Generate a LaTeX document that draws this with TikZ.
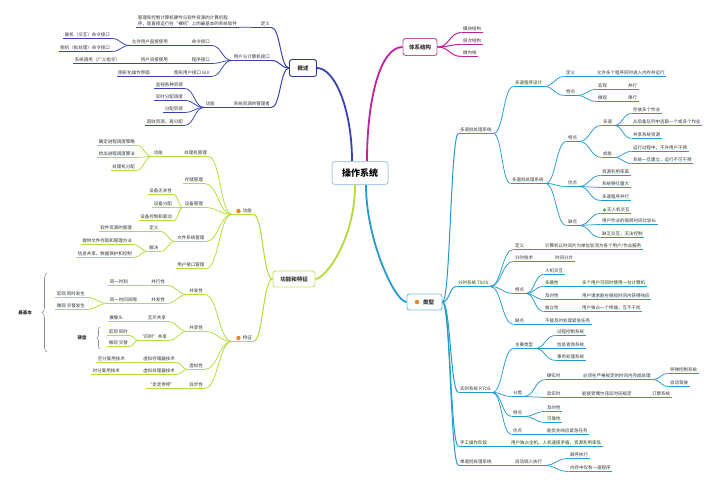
\documentclass[tikz,border=0pt]{standalone}
\usepackage{fontspec}
\setmainfont{Noto Sans CJK SC}
\usetikzlibrary{calc,decorations.pathreplacing}
\definecolor{txt}{HTML}{333333}
\definecolor{cBlue}{RGB}{55,68,175}
\definecolor{cMag}{RGB}{190,35,155}
\definecolor{cYG}{RGB}{178,220,55}
\definecolor{cCy}{RGB}{35,155,205}
\definecolor{rootb}{RGB}{175,205,228}
\definecolor{dotor}{RGB}{240,130,40}
\definecolor{dotgr}{RGB}{70,190,90}
\definecolor{gsbc}{RGB}{45,55,135}
\definecolor{txbc}{RGB}{185,85,170}
\definecolor{gtbc}{RGB}{200,228,100}
\definecolor{lxbc}{RGB}{120,190,225}
\definecolor{brc}{RGB}{140,140,140}
\tikzset{
  t/.style={font=\fontsize{4.5}{5}\selectfont, text=txt, inner xsep=1.5pt, inner ysep=1pt, text height=3.6pt, text depth=0.9pt},
  bl/.style={draw=cBlue, line width=0.75pt},
  mg/.style={draw=cMag, line width=0.75pt},
  yg/.style={draw=cYG, line width=0.75pt},
  cy/.style={draw=cCy, line width=0.75pt},
  lc/.style={to path={let \p1=(\tikztostart), \p2=(\tikztotarget), \p3=($(\p1)!0.5!(\p2)$) in .. controls (\x3,\y1) and (\x3,\y2) .. (\p2)}},
  box/.style={draw=#1, line width=0.9pt, rounded corners=2.5pt, fill=white, text=txt, font=\fontsize{5.5}{6}\selectfont\bfseries, inner sep=0pt},
  dotn/.style={circle, fill=#1, inner sep=0pt, minimum size=4.4pt},
  bracestyle/.style={draw=brc, line width=0.6pt, decorate, decoration={brace, amplitude=#1}},
  bold/.style={t, font=\fontsize{4.5}{5}\selectfont\bfseries}
}
\newcommand\mmL[4]{\node[t,anchor=east] (#2) at (#3) {#4}; \draw[#1] (#2.south west) -- (#2.south east);}
\newcommand\mmR[4]{\node[t,anchor=west] (#2) at (#3) {#4}; \draw[#1] (#2.south west) -- (#2.south east);}
\newcommand\conL[3]{\draw[#1] (#2.south west) to[lc] (#3.south east);}
\newcommand\conR[3]{\draw[#1] (#2.south east) to[lc] (#3.south west);}
\begin{document}
\begin{tikzpicture}[x=1pt,y=-1pt]
\fill[white] (0,0) rectangle (720,488);
\useasboundingbox (0,0) rectangle (720,488);

% ---------- boxes ----------
\node[draw=rootb, line width=1pt, rounded corners=3pt, fill=white, minimum width=56pt, minimum height=23pt, inner sep=0pt, text=black, font=\fontsize{9}{10}\selectfont\bfseries] (root) at (360,173) {操作系统};
\node[box=gsbc, minimum width=27pt, minimum height=17pt] (gs) at (303,68) {概述};
\node[box=txbc, minimum width=34pt, minimum height=17pt] (tx) at (420,47) {体系结构};
\node[box=gtbc, minimum width=42pt, minimum height=16pt] (gt) at (294,279) {功能和特征};
\node[box=lxbc, minimum width=35pt, minimum height=16pt] (lx) at (424.5,302) {\hspace*{8pt}类型};
\node[dotn=dotor] (lxdot) at (417,302) {};

\draw[draw=cBlue, line width=1.8pt] ([xshift=-8pt]root.north) .. controls (352,110) and (335,68) .. (gs.east);
\draw[draw=cMag, line width=1.8pt] ([xshift=7pt]root.north) .. controls (367,100) and (380,47) .. (tx.west);
\draw[draw=cYG, line width=1.8pt] ([xshift=-5pt]root.south) .. controls (355,240) and (325,279) .. (gt.east);
\draw[draw=cCy, line width=1.8pt] ([xshift=6pt]root.south) .. controls (366,240) and (395,302) .. (lx.west);

% ---------- 概述 ----------
\mmL{bl}{gsdef}{271.5,24}{定义}
\node[font=\fontsize{4.5}{6.5}\selectfont, text=txt, align=left, anchor=south east, inner xsep=1.5pt, inner ysep=1pt] (gsdeft) at (238.5,27.25) {管理和控制计算机硬件与软件资源的计算机程\\序，是直接运行在“裸机”上的最基本的系统软件};
\draw[bl] (gsdeft.south west) -- (gsdeft.south east);
\mmL{bl}{gsui}{271.5,57}{用户与计算机接口}
\mmL{bl}{gscmd}{211.5,42}{命令接口}
\mmL{bl}{gscmdb}{169.5,42}{允许用户直接使用}
\mmL{bl}{gscmdx}{111.5,35}{联机（交互）命令接口}
\mmL{bl}{gscmdy}{111.5,48}{脱机（批处理）命令接口}
\mmL{bl}{gsprog}{211.5,60}{程序接口}
\mmL{bl}{gsprogb}{169.5,60}{用户间接使用}
\mmL{bl}{gsprogc}{121.5,60}{系统调用（广义指令）}
\mmL{bl}{gsgui}{211.5,73}{图形用户接口 GUI}
\mmL{bl}{gsguib}{151.5,73}{图形化操作界面}
\mmL{bl}{gsres}{271.5,104}{系统资源的管理者}
\mmL{bl}{gsfn}{216.5,104}{功能}
\mmL{bl}{gsfa}{184.5,85}{监视各种资源}
\mmL{bl}{gsfb}{184.5,97}{实时分配调度}
\mmL{bl}{gsfc}{184.5,109}{分配资源}
\mmL{bl}{gsfd}{184.5,122}{回收资源，再分配}
\foreach \q in {gsdef,gsui,gsres} {\draw[bl, line width=1pt] (gs.west) to[lc] (\q.south east);}
\conL{bl}{gsdef}{gsdeft}
\foreach \q in {gscmd,gsprog,gsgui} {\conL{bl}{gsui}{\q}}
\conL{bl}{gscmd}{gscmdb}
\conL{bl}{gscmdb}{gscmdx}
\conL{bl}{gscmdb}{gscmdy}
\conL{bl}{gsprog}{gsprogb}
\conL{bl}{gsprogb}{gsprogc}
\conL{bl}{gsgui}{gsguib}
\conL{bl}{gsres}{gsfn}
\foreach \q in {gsfa,gsfb,gsfc,gsfd} {\conL{bl}{gsfn}{\q}}

% ---------- 体系结构 ----------
\mmR{mg}{txi}{461.5,29}{模块结构}
\mmR{mg}{txii}{461.5,41}{层次结构}
\mmR{mg}{txiii}{461.5,53}{微内核}
\foreach \q in {txi,txii,txiii} {\draw[mg, line width=1pt] (tx.east) to[lc] (\q.south west);}

% ---------- 功能和特征 ----------
\mmL{yg}{gn}{253.5,211}{\hspace*{9pt}功能}
\node[dotn=dotor] (gndot) at (238.5,211) {};
\mmL{yg}{tz}{253.5,338}{\hspace*{9pt}特征}
\node[dotn=dotor] (tzdot) at (238.5,338) {};
\foreach \q in {gn,tz} {\draw[yg, line width=1pt] (gt.west) to[lc] (\q.south east);}

\mmL{yg}{gna}{208.5,153}{处理机管理}
\mmL{yg}{gnaf}{164.5,153}{功能}
\mmL{yg}{gnax}{136.5,142}{确定进程调度策略}
\mmL{yg}{gnay}{136.5,154}{给出进程调度算法}
\mmL{yg}{gnaz}{136.5,167}{处理机分配}
\mmL{yg}{gnb}{204.5,180}{存储管理}
\mmL{yg}{gnc}{204.5,204}{设备管理}
\mmL{yg}{gncx}{173.5,191}{设备无关性}
\mmL{yg}{gncy}{173.5,204}{设备分配}
\mmL{yg}{gncz}{173.5,217}{设备控制和驱动}
\mmL{yg}{gnd}{206,238}{文件系统管理}
\mmL{yg}{gnda}{160,228}{定义}
\mmL{yg}{gndat}{133.5,228}{软件资源的管理}
\mmL{yg}{gndb}{160,248}{解决}
\mmL{yg}{gndbx}{133.5,241}{提供文件存取和管理方法}
\mmL{yg}{gndby}{133.5,254}{信息共享、数据保护和控制}
\mmL{yg}{gne}{206,265}{用户接口管理}
\foreach \q in {gna,gnb,gnc,gnd,gne} {\conL{yg}{gn}{\q}}
\conL{yg}{gna}{gnaf}
\foreach \q in {gnax,gnay,gnaz} {\conL{yg}{gnaf}{\q}}
\foreach \q in {gncx,gncy,gncz} {\conL{yg}{gnc}{\q}}
\conL{yg}{gnd}{gnda}
\conL{yg}{gnd}{gndb}
\conL{yg}{gnda}{gndat}
\conL{yg}{gndb}{gndbx}
\conL{yg}{gndb}{gndby}

\mmL{yg}{tza}{204.5,291}{并发性}
\mmL{yg}{tzaa}{166.5,282}{并行性}
\mmL{yg}{tzaax}{129.5,282}{同一时刻}
\mmL{yg}{tzab}{166.5,300}{并发性}
\mmL{yg}{tzabx}{138.5,300}{同一时间间隔}
\mmL{yg}{tzabi}{86.5,294}{宏观\ 同时发生}
\mmL{yg}{tzabii}{86.5,306}{微观\ 交替发生}
\mmL{yg}{tzb}{204.5,328}{共享性}
\mmL{yg}{tzba}{167.5,318}{互斥共享}
\mmL{yg}{tzbax}{124.5,318}{摄像头}
\mmL{yg}{tzbb}{168.5,337}{“同时”共享}
\mmL{yg}{tzbbi}{129.5,332}{宏观\ 同时}
\mmL{yg}{tzbbii}{129.5,343}{微观\ 交替}
\mmL{yg}{tzc}{204.5,366}{虚拟性}
\mmL{yg}{tzca}{176.5,359}{虚拟存储器技术}
\mmL{yg}{tzcax}{126.5,359}{空分复用技术}
\mmL{yg}{tzcb}{176.5,371}{虚拟处理器技术}
\mmL{yg}{tzcbx}{121.5,371}{时分复用技术}
\mmL{yg}{tzd}{204.5,385}{异步性}
\mmL{yg}{tzdx}{176.5,385}{“走走停停”}
\foreach \q in {tza,tzb,tzc,tzd} {\conL{yg}{tz}{\q}}
\conL{yg}{tza}{tzaa}
\conL{yg}{tza}{tzab}
\conL{yg}{tzaa}{tzaax}
\conL{yg}{tzab}{tzabx}
\conL{yg}{tzabx}{tzabi}
\conL{yg}{tzabx}{tzabii}
\conL{yg}{tzb}{tzba}
\conL{yg}{tzb}{tzbb}
\conL{yg}{tzba}{tzbax}
\conL{yg}{tzbb}{tzbbi}
\conL{yg}{tzbb}{tzbbii}
\conL{yg}{tzc}{tzca}
\conL{yg}{tzc}{tzcb}
\conL{yg}{tzca}{tzcax}
\conL{yg}{tzcb}{tzcbx}
\conL{yg}{tzd}{tzdx}

\node[bold] (zjb) at (25,313) {最基本};
\draw[bracestyle=5pt] (47,352) -- (47,273);
\node[bold] (yp) at (82,338) {硬盘};
\draw[bracestyle=3pt] (100,349) -- (100,327);

% ---------- 类型 ----------
\mmR{cy}{la}{458.5,130}{多道批处理系统}
\mmR{cy}{laa}{513.5,83}{多道程序设计}
\mmR{cy}{laai}{564.5,73}{定义}
\mmR{cy}{laait}{595.5,73}{允许多个程序同时进入内存并运行}
\mmR{cy}{laaii}{564.5,92}{特点}
\mmR{cy}{laaiia}{596.5,86}{宏观}
\mmR{cy}{laaiiax}{626.5,86}{并行}
\mmR{cy}{laaiib}{596.5,98}{微观}
\mmR{cy}{laaiibx}{626.5,98}{串行}
\mmR{cy}{lab}{510.5,180}{多道批处理系统}
\mmR{cy}{labi}{566.5,138}{特点}
\mmR{cy}{labia}{601.5,122}{多道}
\mmR{cy}{labiax}{631.5,110}{存放多个作业}
\mmR{cy}{labiay}{631.5,122}{从后备队列中选取一个或多个作业}
\mmR{cy}{labiaz}{631.5,135}{共享系统资源}
\mmR{cy}{labib}{601.5,154}{成批}
\mmR{cy}{labibx}{631.5,148}{运行过程中，不许用户干预}
\mmR{cy}{labiby}{631.5,160}{系统一旦建立，运行不可干预}
\mmR{cy}{labii}{566.5,183}{优点}
\mmR{cy}{labiia}{600.5,172}{资源利用率高}
\mmR{cy}{labiib}{600.5,184}{系统吞吐量大}
\mmR{cy}{labiic}{600.5,197}{多道程序并行}
\mmR{cy}{labiii}{566.5,222}{缺点}
\mmR{cy}{labiiia}{600.5,210}{\hspace*{5pt}无人机交互}
\node[dotn=dotgr, minimum size=3.6pt] (grdot) at (604.5,210) {};
\mmR{cy}{labiiib}{600.5,221}{用户作业的周转时间比较长}
\mmR{cy}{labiiic}{600.5,234}{缺乏交互，无法控制}

\mmR{cy}{lb}{456.5,283}{分时系统 TSOS}
\mmR{cy}{lbi}{513.5,246}{定义}
\mmR{cy}{lbit}{543.5,246}{计算机以时间片为单位轮流为各个用户/作业服务}
\mmR{cy}{lbii}{513.5,258}{分时技术}
\mmR{cy}{lbiit}{553.5,258}{时间分片}
\mmR{cy}{lbiii}{513.5,290}{特点}
\mmR{cy}{lbiiia}{543.5,271}{人机交互}
\mmR{cy}{lbiiib}{543.5,283}{多路性}
\mmR{cy}{lbiiibt}{580.5,283}{多个用户可同时使用一台计算机}
\mmR{cy}{lbiiic}{543.5,296}{及时性}
\mmR{cy}{lbiiict}{580.5,296}{用户请求能在很短时间内获得响应}
\mmR{cy}{lbiiid}{543.5,308}{独立性}
\mmR{cy}{lbiiidt}{580.5,308}{用户独占一个终端，互不干扰}
\mmR{cy}{lbiv}{513.5,321}{缺点}
\mmR{cy}{lbivt}{543.5,321}{不能及时处理紧急任务}

\mmR{cy}{lr}{458.5,389}{实时系统 RTOS}
\mmR{cy}{lri}{513.5,345}{主要类型}
\mmR{cy}{lria}{555.5,332}{过程控制系统}
\mmR{cy}{lrib}{555.5,345}{信息查询系统}
\mmR{cy}{lric}{555.5,357}{事务处理系统}
\mmR{cy}{lrii}{511.5,393}{分类}
\mmR{cy}{lriia}{545.5,376}{硬实时}
\mmR{cy}{lriiat}{581.5,376}{必须在严格规定的时间内完成处理}
\mmR{cy}{lriiax}{668.5,370}{导弹控制系统}
\mmR{cy}{lriiay}{668.5,383}{自动驾驶}
\mmR{cy}{lriib}{545.5,394}{软实时}
\mmR{cy}{lriibt}{580.5,394}{能接受偶尔违反时间规定}
\mmR{cy}{lriibx}{650.5,394}{订票系统}
\mmR{cy}{lriii}{511.5,413}{特点}
\mmR{cy}{lriiia}{545.5,408}{及时性}
\mmR{cy}{lriiib}{545.5,419}{可靠性}
\mmR{cy}{lriv}{511.5,431}{优点}
\mmR{cy}{lrivt}{545.5,431}{能优先响应紧急任务}

\mmR{cy}{ld}{458.5,443}{手工操作阶段}
\mmR{cy}{ldt}{509.5,443}{用户独占全机、人机速度矛盾，资源利用率低}
\mmR{cy}{le}{458.5,462}{单道批处理系统}
\mmR{cy}{lei}{513.5,462}{自动调入执行}
\mmR{cy}{leia}{568.5,455}{顺序执行}
\mmR{cy}{leib}{568.5,468}{内存中仅有一道程序}

\foreach \q in {la,lb,lr,ld,le} {\draw[cy, line width=1pt] (lx.east) to[lc] (\q.south west);}
\conR{cy}{la}{laa}
\conR{cy}{la}{lab}
\conR{cy}{laa}{laai}
\conR{cy}{laa}{laaii}
\conR{cy}{laai}{laait}
\conR{cy}{laaii}{laaiia}
\conR{cy}{laaii}{laaiib}
\conR{cy}{laaiia}{laaiiax}
\conR{cy}{laaiib}{laaiibx}
\foreach \q in {labi,labii,labiii} {\conR{cy}{lab}{\q}}
\conR{cy}{labi}{labia}
\conR{cy}{labi}{labib}
\foreach \q in {labiax,labiay,labiaz} {\conR{cy}{labia}{\q}}
\conR{cy}{labib}{labibx}
\conR{cy}{labib}{labiby}
\foreach \q in {labiia,labiib,labiic} {\conR{cy}{labii}{\q}}
\foreach \q in {labiiia,labiiib,labiiic} {\conR{cy}{labiii}{\q}}
\foreach \q in {lbi,lbii,lbiii,lbiv} {\conR{cy}{lb}{\q}}
\conR{cy}{lbi}{lbit}
\conR{cy}{lbii}{lbiit}
\foreach \q in {lbiiia,lbiiib,lbiiic,lbiiid} {\conR{cy}{lbiii}{\q}}
\conR{cy}{lbiiib}{lbiiibt}
\conR{cy}{lbiiic}{lbiiict}
\conR{cy}{lbiiid}{lbiiidt}
\conR{cy}{lbiv}{lbivt}
\foreach \q in {lri,lrii,lriii,lriv} {\conR{cy}{lr}{\q}}
\foreach \q in {lria,lrib,lric} {\conR{cy}{lri}{\q}}
\conR{cy}{lrii}{lriia}
\conR{cy}{lrii}{lriib}
\conR{cy}{lriia}{lriiat}
\conR{cy}{lriiat}{lriiax}
\conR{cy}{lriiat}{lriiay}
\conR{cy}{lriib}{lriibt}
\conR{cy}{lriibt}{lriibx}
\conR{cy}{lriii}{lriiia}
\conR{cy}{lriii}{lriiib}
\conR{cy}{lriv}{lrivt}
\conR{cy}{ld}{ldt}
\conR{cy}{le}{lei}
\conR{cy}{lei}{leia}
\conR{cy}{lei}{leib}
\end{tikzpicture}
\end{document}
